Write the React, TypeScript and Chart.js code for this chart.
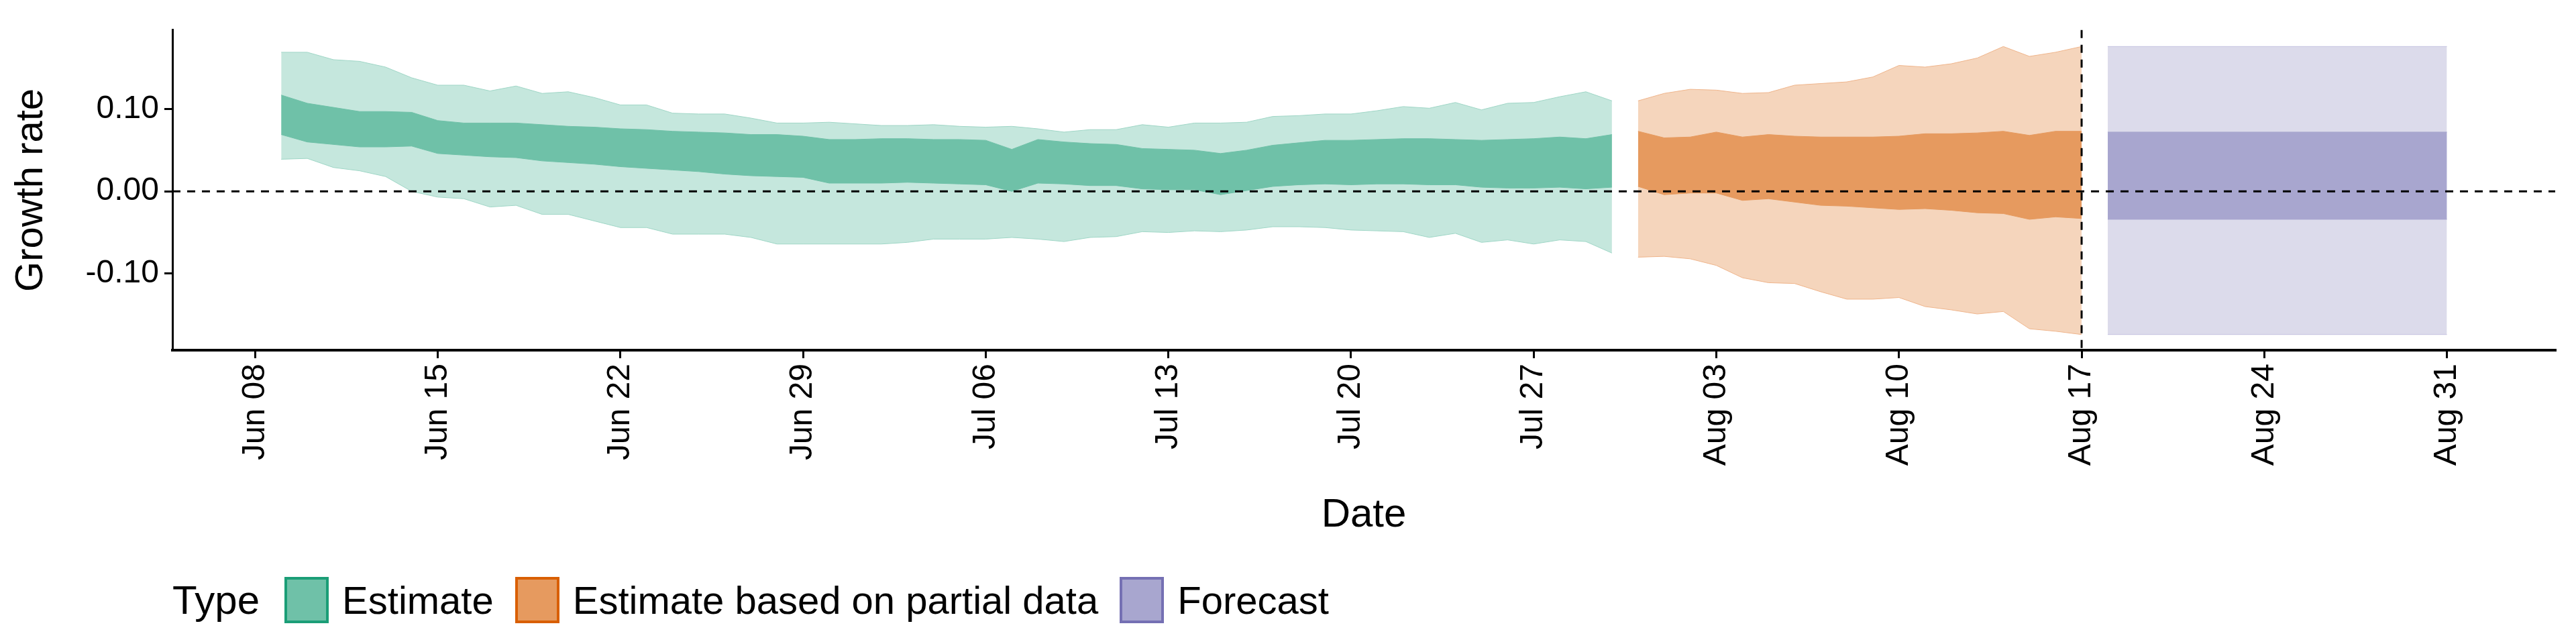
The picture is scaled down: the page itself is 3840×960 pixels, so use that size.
import React, { useEffect, useRef } from "react";
import { Chart, registerables } from "chart.js";
Chart.register(...registerables);

// day index: 0 = Jun 08
const tickDays = [0, 7, 14, 21, 28, 35, 42, 49, 56, 63, 70, 77, 84];
const tickLabels = ["Jun 08", "Jun 15", "Jun 22", "Jun 29", "Jul 06", "Jul 13", "Jul 20", "Jul 27", "Aug 03", "Aug 10", "Aug 17", "Aug 24", "Aug 31"];
const yTicks = [-0.1, 0, 0.1];

const estStart = 1; // Jun 09
const estU90 = [.169,.169,.160,.158,.151,.138,.129,.129,.122,.128,.119,.121,.114,.105,.105,.095,.094,.094,.089,.083,.083,.084,.082,.080,.080,.081,.079,.078,.079,.076,.072,.075,.075,.081,.078,.083,.083,.084,.091,.092,.094,.094,.098,.103,.101,.108,.099,.107,.108,.115,.121,.110];
const estU50 = [.117,.107,.102,.097,.097,.096,.086,.083,.083,.083,.081,.079,.078,.076,.075,.073,.072,.071,.069,.069,.067,.063,.063,.064,.064,.063,.063,.062,.051,.063,.060,.058,.057,.052,.051,.050,.046,.050,.056,.059,.062,.062,.063,.064,.064,.063,.062,.063,.064,.066,.064,.069];
const estL50 = [.069,.060,.057,.054,.054,.055,.046,.044,.042,.041,.037,.035,.033,.030,.028,.026,.024,.021,.019,.018,.017,.010,.010,.010,.011,.010,.009,.008,.000,.010,.009,.007,.007,.003,.002,.002,-.004,.001,.006,.008,.009,.008,.009,.009,.008,.008,.005,.004,.004,.005,.003,.005];
const estL90 = [.039,.040,.029,.025,.018,.000,-.007,-.009,-.019,-.017,-.028,-.028,-.036,-.044,-.044,-.052,-.052,-.052,-.056,-.064,-.064,-.064,-.064,-.064,-.062,-.058,-.058,-.058,-.056,-.058,-.061,-.056,-.055,-.049,-.050,-.048,-.049,-.047,-.043,-.043,-.044,-.047,-.048,-.049,-.056,-.051,-.062,-.059,-.064,-.059,-.061,-.075];

const partStart = 53; // Jul 31
const partU90 = [.110,.119,.124,.123,.119,.120,.129,.131,.133,.139,.153,.151,.155,.162,.176,.164,.169,.176];
const partU50 = [.073,.065,.066,.072,.066,.069,.067,.066,.066,.066,.067,.070,.070,.071,.073,.068,.073,.073];
const partL50 = [.006,-.004,-.002,-.002,-.011,-.009,-.013,-.017,-.018,-.020,-.022,-.021,-.023,-.026,-.027,-.034,-.031,-.033];
const partL90 = [-.080,-.079,-.082,-.090,-.105,-.111,-.112,-.122,-.131,-.131,-.129,-.140,-.144,-.149,-.146,-.167,-.170,-.174];

const fcDays = [71, 84]; // Aug 18 - Aug 31
const fcU90 = [.176, .176];
const fcU50 = [.072, .072];
const fcL50 = [-.034, -.034];
const fcL90 = [-.174, -.174];

const cutoffDay = 70; // Aug 17

const pts = (start: number, v: number[]) => v.map((y, i) => ({ x: start + i, y }));
const ptsX = (xs: number[], v: number[]) => v.map((y, i) => ({ x: xs[i], y }));

function band(lo: any[], hi: any[], fill: string, line: string, order: number) {
  return [
    { data: lo, borderColor: line, borderWidth: 1, pointRadius: 0, fill: false, tension: 0, order },
    { data: hi, borderColor: line, borderWidth: 1, pointRadius: 0, fill: "-1", backgroundColor: fill, tension: 0, order },
  ];
}

const FONT = "'Liberation Sans', Arial, sans-serif";

export default function App() {
  const ref = useRef<HTMLCanvasElement>(null);
  useEffect(() => {
    const refLines = {
      id: "refLines",
      afterDatasetsDraw(chart: any) {
        const { ctx, chartArea: a, scales } = chart;
        ctx.save();
        ctx.strokeStyle = "#000";
        ctx.lineWidth = 3;
        ctx.setLineDash([12, 10]);
        const y0 = scales.y.getPixelForValue(0);
        ctx.beginPath(); ctx.moveTo(a.left, y0); ctx.lineTo(a.right, y0); ctx.stroke();
        const xc = scales.x.getPixelForValue(cutoffDay);
        ctx.beginPath(); ctx.moveTo(xc, a.top); ctx.lineTo(xc, a.bottom); ctx.stroke();
        ctx.restore();
      },
    };
    const chart = new Chart(ref.current!, {
      type: "line",
      data: {
        datasets: [
          ...band(pts(estStart, estL90), pts(estStart, estU90), "#c5e7dd", "#9fd6c6", 2),
          ...band(pts(estStart, estL50), pts(estStart, estU50), "#6fc1a8", "#6fc1a8", 1),
          ...band(pts(partStart, partL90), pts(partStart, partU90), "#f5d5bc", "#efb58c", 2),
          ...band(pts(partStart, partL50), pts(partStart, partU50), "#e69a5f", "#e69a5f", 1),
          ...band(ptsX(fcDays, fcL90), ptsX(fcDays, fcU90), "#dcdbeb", "#c4c2e0", 2),
          ...band(ptsX(fcDays, fcL50), ptsX(fcDays, fcU50), "#a8a6cf", "#a8a6cf", 1),
        ] as any,
      },
      options: {
        animation: false,
        responsive: false,
        layout: { padding: { top: 20, right: 23, left: 0, bottom: 0 } },
        plugins: { legend: { display: false }, tooltip: { enabled: false } },
        scales: {
          x: {
            type: "linear",
            min: -3.17,
            max: 88.15,
            afterBuildTicks: (s: any) => { s.ticks = tickDays.map((v) => ({ value: v })); },
            afterFit: (s: any) => { s.height = 286; },
            ticks: {
              autoSkip: false,
              maxRotation: 90,
              minRotation: 90,
              color: "#000",
              font: { family: FONT, size: 48 },
              padding: 8,
              callback: (v: any) => tickLabels[tickDays.indexOf(v)] ?? "",
            },
            grid: { display: true, drawOnChartArea: false, drawTicks: true, tickLength: 12, color: "#000", lineWidth: 3 },
            border: { display: true, color: "#000", width: 4 },
            title: { display: true, text: "Date", color: "#000", font: { family: FONT, size: 60 }, padding: { top: 4 } },
          },
          y: {
            type: "linear",
            min: -0.193,
            max: 0.196,
            afterBuildTicks: (s: any) => { s.ticks = yTicks.map((v) => ({ value: v })); },
            afterFit: (s: any) => { s.width = 249; },
            ticks: {
              color: "#000",
              font: { family: FONT, size: 48 },
              padding: 8,
              callback: (v: any) => Number(v).toFixed(2),
            },
            grid: { display: true, drawOnChartArea: false, drawTicks: true, tickLength: 12, color: "#000", lineWidth: 3 },
            border: { display: true, color: "#000", width: 3 },
            title: { display: true, text: "Growth rate", color: "#000", font: { family: FONT, size: 58 }, padding: { bottom: 4 } },
          },
        },
      },
      plugins: [refLines],
    } as any);
    return () => chart.destroy();
  }, []);

  const item = (bg: string, border: string, label: string) => (
    <div style={{ display: "flex", alignItems: "center", marginRight: 32 }}>
      <div style={{ width: 66, height: 69, background: bg, border: `4px solid ${border}`, boxSizing: "border-box", marginRight: 20 }} />
      <span>{label}</span>
    </div>
  );

  return (
    <div style={{ fontFamily: FONT, width: 3824 }}>
      <canvas ref={ref} width={3824} height={800} style={{ display: "block", width: 3824, height: 800 }} />
      <div style={{ display: "flex", alignItems: "center", marginTop: 52, marginLeft: 249, fontSize: 58, color: "#000" }}>
        <span style={{ fontSize: 60, marginRight: 37 }}>Type</span>
        {item("#6fc1a8", "#1b9e77", "Estimate")}
        {item("#e69a5f", "#d95f02", "Estimate based on partial data")}
        {item("#a8a6cf", "#7570b3", "Forecast")}
      </div>
    </div>
  );
}
